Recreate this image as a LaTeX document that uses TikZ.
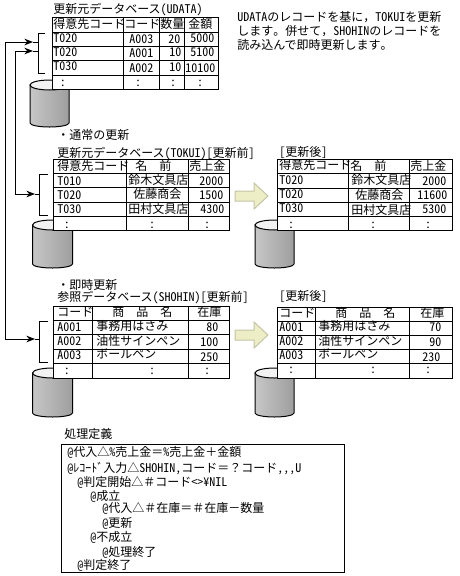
\documentclass[tikz,border=0pt]{standalone}
\usepackage{fontspec}
\setmainfont[RawFeature=+hwid]{Noto Sans CJK JP}
\newfontfamily\zenfont{Noto Sans CJK JP}
\newcommand{\zen}[1]{{\zenfont #1}}
\usetikzlibrary{arrows.meta}
\definecolor{palefat}{HTML}{EEEEC6}
\definecolor{edgefat}{HTML}{C4C4A6}
\tikzset{
  txt/.style={anchor=west,inner sep=0pt,text height=7.9pt,text depth=1.1pt,font=\fontsize{9}{9}\selectfont},
  ztxt/.style={txt,font=\fontsize{9}{9}\selectfont\zenfont},
  dot/.style={anchor=center,inner sep=0pt,text height=7.9pt,text depth=1.1pt,font=\fontsize{9}{9}\selectfont},
  tbl/.style={draw=black,line width=0.75pt,fill=white},
  grid/.style={draw=black,line width=0.75pt},
  link/.style={draw=black,line width=0.75pt},
  flow/.style={draw=black,line width=0.75pt,-{Stealth[length=6.5pt,width=5pt]}},
  barrel/.style={draw=black,line width=0.75pt,left color=black!22,middle color=black!4,right color=black!38},
  lid/.style={draw=black,line width=0.75pt,fill=black!5},
  fat/.style={draw=edgefat,line width=0.75pt,fill=palefat}
}
\begin{document}
\begin{tikzpicture}[x=0.75pt,y=-0.75pt]
\useasboundingbox (0,0) rectangle (460,576);
% the update data
\begin{scope}
\path[barrel] (30,85) -- (30,123) arc[start angle=180,end angle=0,x radius=19.5,y radius=4] -- (69,85) -- cycle;
\draw[lid] (49.5,85) ellipse[x radius=19.5,y radius=5];
\draw[tbl] (52,17) rectangle (218,89);
\draw[grid] (52,32) -- (218,32);
\draw[grid] (52,46) -- (218,46);
\draw[grid] (52,60) -- (218,60);
\draw[grid] (52,75) -- (218,75);
\draw[grid] (123,17) -- (123,89);
\draw[grid] (159,17) -- (159,89);
\draw[grid] (184,17) -- (184,89);
\node[txt] (udataTitle) at (53,9) {更新元データベース(UDATA)};
\node[txt] (udataH1) at (53,24) {得意先コード};
\node[txt] (udataH2) at (124,24) {コード};
\node[txt] (udataH3) at (160,24) {数量};
\node[txt] (udataH4) at (188,24) {金額};
\node[txt] (udataA1) at (53,38) {T020};
\node[txt] (udataA2) at (129,39) {A003};
\node[txt] (udataA3) at (168,39) {20};
\node[txt] (udataA4) at (190,38) {5000};
\node[txt] (udataB1) at (53,52) {T020};
\node[txt] (udataB2) at (129,53) {A001};
\node[txt] (udataB3) at (169,52) {10};
\node[txt] (udataB4) at (190,52) {5100};
\node[txt] (udataC1) at (53,66) {T030};
\node[txt] (udataC2) at (129,68) {A002};
\node[txt] (udataC3) at (169,67) {10};
\node[txt] (udataC4) at (185,68) {10100};
\node[dot] (udataD1) at (63,82) {:};
\node[dot] (udataD2) at (138,82) {:};
\node[dot] (udataD3) at (173,82) {:};
\node[dot] (udataD4) at (200,82) {:};
\end{scope}
\node[txt] (noteA) at (237,17) {UDATAのレコードを基に\zen{，}TOKUIを更新};
\node[txt] (noteB) at (237,31) {します\zen{。}併せて\zen{，}SHOHINのレコードを};
\node[txt] (noteC) at (237,45) {読み込んで即時更新します\zen{。}};
% normal update, before
\node[ztxt] (normalHead) at (57,135) {・通常の更新};
\begin{scope}
\path[barrel] (32.5,225) -- (32.5,264) arc[start angle=180,end angle=0,x radius=20,y radius=4] -- (72.5,225) -- cycle;
\draw[lid] (52.5,225) ellipse[x radius=20,y radius=5];
\draw[tbl] (53,159) rectangle (229,230);
\draw[grid] (53,173) -- (229,173);
\draw[grid] (53,187) -- (229,187);
\draw[grid] (53,202) -- (229,202);
\draw[grid] (53,216) -- (229,216);
\draw[grid] (126,159) -- (126,230);
\draw[grid] (188,159) -- (188,230);
\node[txt] (tokuiTitle) at (57,153) {更新元データベース(TOKUI)[更新前]};
\node[txt] (tokuiH1) at (57,166) {得意先コード};
\node[ztxt] (tokuiH2) at (135,166) {名　前};
\node[txt] (tokuiH3) at (189,166) {売上金};
\node[txt] (tokuiA1) at (57,181) {T010};
\node[txt] (tokuiA2) at (128,180) {鈴木文具店};
\node[txt] (tokuiA3) at (199,181) {2000};
\node[txt] (tokuiB1) at (57,195) {T020};
\node[txt] (tokuiB2) at (133,194) {佐藤商会};
\node[txt] (tokuiB3) at (199,195) {1500};
\node[txt] (tokuiC1) at (57,209) {T030};
\node[txt] (tokuiC2) at (128,209) {田村文具店};
\node[txt] (tokuiC3) at (200,209) {4300};
\node[dot] (tokuiD1) at (67,224) {:};
\node[dot] (tokuiD2) at (152,224) {:};
\node[dot] (tokuiD3) at (207,224) {:};
\end{scope}
% normal update, after
\draw[fat] (235,191) -- (254,191) -- (254,183) -- (268,196) -- (254,209) -- (254,201) -- (235,201) -- cycle;
\begin{scope}
\path[barrel] (255,225) -- (255,264) arc[start angle=180,end angle=0,x radius=19.5,y radius=4] -- (294,225) -- cycle;
\draw[lid] (274.5,225) ellipse[x radius=19.5,y radius=5];
\draw[tbl] (277,159) rectangle (452,230);
\draw[grid] (277,173) -- (452,173);
\draw[grid] (277,188) -- (452,188);
\draw[grid] (277,202) -- (452,202);
\draw[grid] (277,216) -- (452,216);
\draw[grid] (348,159) -- (348,230);
\draw[grid] (409,159) -- (409,230);
\node[txt] (tokuiNewTitle) at (279,152) {[更新後]};
\node[txt] (tokuiNewH1) at (279,165) {得意先コード};
\node[ztxt] (tokuiNewH2) at (350,166) {名　前};
\node[txt] (tokuiNewH3) at (410,166) {売上金};
\node[txt] (tokuiNewA1) at (279,180) {T020};
\node[txt] (tokuiNewA2) at (351,180) {鈴木文具店};
\node[txt] (tokuiNewA3) at (422,181) {2000};
\node[txt] (tokuiNewB1) at (279,194) {T020};
\node[txt] (tokuiNewB2) at (355,195) {佐藤商会};
\node[txt] (tokuiNewB3) at (417,195) {11600};
\node[txt] (tokuiNewC1) at (279,208) {T030};
\node[txt] (tokuiNewC2) at (351,210) {田村文具店};
\node[txt] (tokuiNewC3) at (422,209) {5300};
\node[dot] (tokuiNewD1) at (291,224) {:};
\node[dot] (tokuiNewD2) at (373,224) {:};
\node[dot] (tokuiNewD3) at (428,224) {:};
\end{scope}
% immediate update, before
\node[ztxt] (soonHead) at (57,285) {・即時更新};
\begin{scope}
\path[barrel] (32.5,373) -- (32.5,413) arc[start angle=180,end angle=0,x radius=20,y radius=4] -- (72.5,373) -- cycle;
\draw[lid] (52.5,373) ellipse[x radius=20,y radius=5];
\draw[tbl] (53,306) rectangle (229,378);
\draw[grid] (53,320) -- (229,320);
\draw[grid] (53,334) -- (229,334);
\draw[grid] (53,349) -- (229,349);
\draw[grid] (53,363) -- (229,363);
\draw[grid] (92,306) -- (92,378);
\draw[grid] (188,306) -- (188,378);
\node[txt] (shohinTitle) at (57,297) {参照データベース(SHOHIN)[更新前]};
\node[txt] (shohinH1) at (57,312) {コード};
\node[ztxt] (shohinH2) at (112,312) {商　品　名};
\node[txt] (shohinH3) at (197,312) {在庫};
\node[txt] (shohinA1) at (57,327) {A001};
\node[txt] (shohinA2) at (96,326) {事務用はさみ};
\node[txt] (shohinA3) at (206,327) {80};
\node[txt] (shohinB1) at (57,341) {A002};
\node[txt] (shohinB2) at (96,341) {油性サインペン};
\node[txt] (shohinB3) at (200,342) {100};
\node[txt] (shohinC1) at (57,355) {A003};
\node[txt] (shohinC2) at (96,354) {ボールペン};
\node[txt] (shohinC3) at (200,357) {250};
\node[dot] (shohinD1) at (67,370) {:};
\node[dot] (shohinD2) at (152,370) {:};
\node[dot] (shohinD3) at (207,370) {:};
\end{scope}
% immediate update, after
\draw[fat] (235,330) -- (254,330) -- (254,322) -- (268,335) -- (254,348) -- (254,340) -- (235,340) -- cycle;
\begin{scope}
\path[barrel] (255,373) -- (255,413) arc[start angle=180,end angle=0,x radius=19.5,y radius=4] -- (294,373) -- cycle;
\draw[lid] (274.5,373) ellipse[x radius=19.5,y radius=5];
\draw[tbl] (277,307) rectangle (452,378);
\draw[grid] (277,321) -- (452,321);
\draw[grid] (277,335) -- (452,335);
\draw[grid] (277,349) -- (452,349);
\draw[grid] (277,363) -- (452,363);
\draw[grid] (315,307) -- (315,378);
\draw[grid] (409,307) -- (409,378);
\node[txt] (shohinNewTitle) at (279,296) {[更新後]};
\node[txt] (shohinNewH1) at (279,313) {コード};
\node[ztxt] (shohinNewH2) at (335,313) {商　品　名};
\node[txt] (shohinNewH3) at (420,313) {在庫};
\node[txt] (shohinNewA1) at (279,327) {A001};
\node[txt] (shohinNewA2) at (318,326) {事務用はさみ};
\node[txt] (shohinNewA3) at (429,327) {70};
\node[txt] (shohinNewB1) at (279,341) {A002};
\node[txt] (shohinNewB2) at (318,341) {油性サインペン};
\node[txt] (shohinNewB3) at (429,342) {90};
\node[txt] (shohinNewC1) at (279,355) {A003};
\node[txt] (shohinNewC2) at (318,354) {ボールペン};
\node[txt] (shohinNewC3) at (422,357) {230};
\node[dot] (shohinNewD1) at (291,369) {:};
\node[dot] (shohinNewD2) at (373,369) {:};
\node[dot] (shohinNewD3) at (428,369) {:};
\end{scope}
% brackets and the two lines
\draw[link] (45,33) -- (38,33) -- (38,73) -- (45,73);
\draw[link] (48,174) -- (39,174) -- (39,215) -- (48,215);
\draw[link] (48,321) -- (39,321) -- (39,362) -- (48,362);
\coordinate (topA) at (5,42);
\coordinate (tipA) at (33,42);
\coordinate (endA) at (38,42);
\coordinate (topB) at (15,51);
\coordinate (tipB) at (33,51);
\coordinate (endB) at (38,51);
\coordinate (lowA) at (5,339);
\coordinate (tipC) at (35,339);
\coordinate (endC) at (39,339);
\coordinate (lowB) at (15,194);
\coordinate (tipD) at (35,194);
\coordinate (endD) at (39,194);
\draw[flow] (topA) -- (tipA);
\draw[link] (tipA) -- (endA);
\draw[flow] (topB) -- (tipB);
\draw[link] (tipB) -- (endB);
\draw[flow] (topA) -- (lowA) -- (tipC);
\draw[link] (tipC) -- (endC);
\draw[flow] (topB) -- (lowB) -- (tipD);
\draw[link] (tipD) -- (endD);
% the definition
\node[txt] (defTitle) at (64,434) {処理定義};
\draw[grid] (61,444) rectangle (344,572);
\node[txt] (defA) at (67,452) {@代入△\%売上金\zen{＝}\%売上金\zen{＋}金額};
\node[txt] (defB) at (67,468) {@ﾚｺｰﾄﾞ入力△SHOHIN,コード\zen{＝？}コード,{},{},U};
\node[txt] (defC) at (77,482) {@判定開始△\zen{＃}コード<>¥NIL};
\node[txt] (defD) at (90,496) {@成立};
\node[txt] (defE) at (102,508) {@代入△\zen{＃}在庫\zen{＝＃}在庫\zen{－}数量};
\node[txt] (defF) at (102,523) {@更新};
\node[txt] (defG) at (90,537) {@不成立};
\node[txt] (defH) at (102,552) {@処理終了};
\node[txt] (defI) at (77,565) {@判定終了};
\end{tikzpicture}
\end{document}
